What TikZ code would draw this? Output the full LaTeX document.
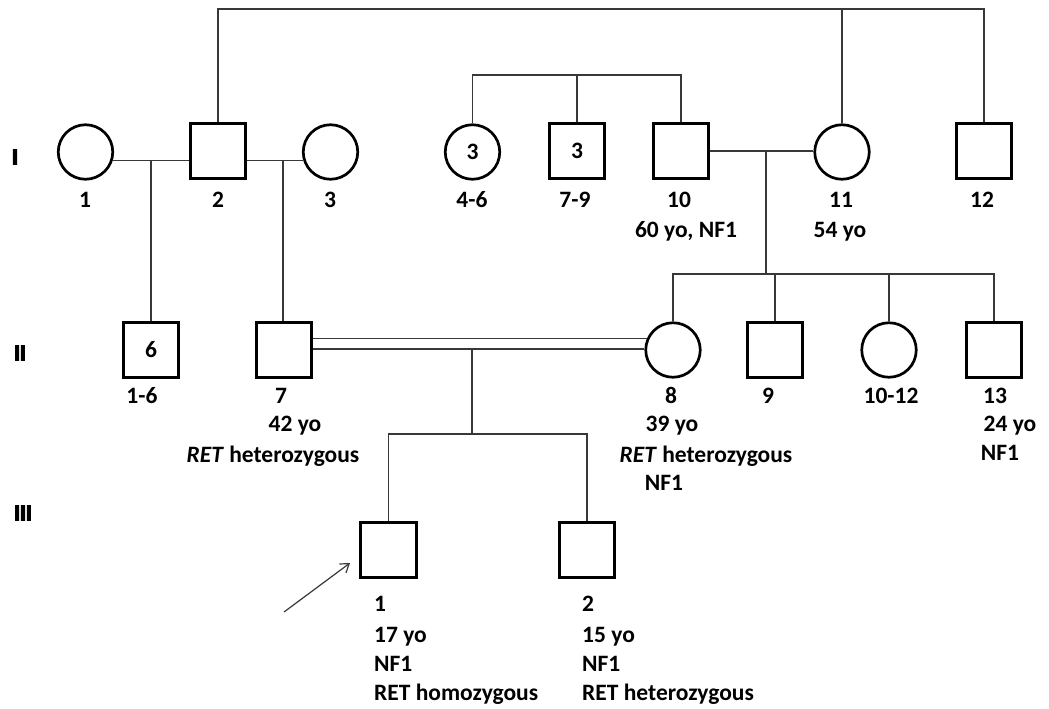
\documentclass[tikz,border=0pt]{standalone}
\usepackage{fontspec}
\setmainfont{Carlito}
\newfontfamily\romfont[FakeBold=5]{Liberation Sans}
\usetikzlibrary{arrows.meta}
\begin{document}
\begin{tikzpicture}[x=1pt,y=-1pt,
  sym/.style={draw=black,line width=2.7pt,inner sep=0pt,font=\fontsize{23.5}{28}\selectfont\bfseries},
  male/.style={sym,rectangle,minimum size=55.5pt},
  female/.style={sym,circle,minimum size=54.5pt},
  conn/.style={draw=black!78,line width=1.2pt},
  lab/.style={font=\fontsize{23.5}{28}\selectfont\bfseries,inner sep=0pt,anchor=base},
  labl/.style={lab,anchor=base west},
  gen/.style={font=\romfont\fontsize{21}{24}\selectfont\bfseries,inner sep=0pt}]
\useasboundingbox (0,0) rectangle (1049,709);
% generation labels
\node[gen] (g1) at (15,157) {I};
\node[gen] (g2) at (20,353) {II};
\node[gen] (g3) at (23,513) {III};
% generation I
\node[female] (p1) at (85.5,152) {};
\node[male] (p2) at (218,151) {};
\node[female] (p3) at (330.5,152) {};
\node[female] (p4) at (472.5,152) {3};
\node[male] (p7) at (577,151) {3};
\node[male] (p10) at (681,151) {};
\node[female] (p11) at (842,152) {};
\node[male] (p12) at (984,151) {};
% generation II
\node[male] (q1) at (151,350) {6};
\node[male] (q7) at (284,350) {};
\node[female] (q8) at (673,350) {};
\node[male] (q9) at (775,350) {};
\node[female] (q10) at (889,350) {};
\node[male] (q13) at (994,350) {};
% generation III
\node[male] (r1) at (388.5,550) {};
\node[male] (r2) at (587,550) {};
% helper coordinates
\coordinate (top) at (0,9);
\coordinate (sib1) at (0,75);
\coordinate (sib2) at (0,274);
\coordinate (sib3) at (0,434);
\coordinate (m12) at (151,160);
\coordinate (m23) at (283,160);
\coordinate (m1011) at (766,152);
\coordinate (m78) at (472,349);
\coordinate (arrtail) at (284,612);
\coordinate (arrhead) at (350,563);
% connectors generation I
\draw[conn] (p2.north) |- (p12.north |- top) -- (p12.north);
\draw[conn] (p11.north) -- (p11.north |- top);
\draw[conn] (p4.north) |- (p10.north |- sib1) -- (p10.north);
\draw[conn] (p7.north) -- (p7.north |- sib1);
\draw[conn] (p1.-17) -- (p1.-17 -| p2.west);
\draw[conn] (p3.197) -- (p3.197 -| p2.east);
\draw[conn] (p10.east) -- (p10.east -| p11.west);
\draw[conn] (m12) -- (m12 |- q1.north);
\draw[conn] (m23) -- (m23 |- q7.north);
\draw[conn] (m1011) -- (m1011 |- sib2);
\draw[conn] (q8.north) |- (q13.north |- sib2) -- (q13.north);
\draw[conn] (q9.north) -- (q9.north |- sib2);
\draw[conn] (q10.north) -- (q10.north |- sib2);
% consanguineous marriage
\draw[conn] (q8.157) -- (q8.157 -| q7.east);
\draw[conn] (q8.178) -- (q8.178 -| q7.east);
\draw[conn] (m78) -- (m78 |- sib3);
\draw[conn] (r1.north) |- (r2.north |- sib3) -- (r2.north);
% proband arrow
\draw[conn,-{Straight Barb[length=8pt,width=11pt,line width=1.2pt]}] (arrtail) -- (arrhead);
% labels generation I
\node[lab] (t1) at (85,207) {1};
\node[lab] (t2) at (218,207) {2};
\node[lab] (t3) at (330,207) {3};
\node[lab] (t4) at (472,207) {4-6};
\node[lab] (t7) at (575,207) {7-9};
\node[lab] (t10) at (679,207) {10};
\node[lab] (t10b) at (686,237) {60 yo, NF1};
\node[lab] (t11) at (841,207) {11};
\node[lab] (t11b) at (840,237) {54 yo};
\node[lab] (t12) at (982,207) {12};
% labels generation II
\node[lab] (u1) at (142,403) {1-6};
\node[lab] (u7) at (281,403) {7};
\node[lab] (u7b) at (295,431) {42 yo};
\node[lab] (u7c) at (273,462) {\textit{RET} heterozygous};
\node[lab] (u8) at (671,403) {8};
\node[lab] (u8b) at (672,431) {39 yo};
\node[lab] (u8c) at (706,462) {\textit{RET} heterozygous};
\node[lab] (u8d) at (664,490) {NF1};
\node[lab] (u9) at (768,403) {9};
\node[lab] (u10) at (891,403) {10-12};
\node[lab] (u13) at (995,403) {13};
\node[lab] (u13b) at (1010,431) {24 yo};
\node[lab] (u13c) at (1000,460) {NF1};
% labels generation III
\node[labl] (v1) at (374,611) {1};
\node[labl] (v1b) at (374,642) {17 yo};
\node[labl] (v1c) at (374,671) {NF1};
\node[labl] (v1d) at (374,700) {RET homozygous};
\node[labl] (v2) at (582,611) {2};
\node[labl] (v2b) at (582,642) {15 yo};
\node[labl] (v2c) at (582,671) {NF1};
\node[labl] (v2d) at (582,700) {RET heterozygous};
\end{tikzpicture}
\end{document}
